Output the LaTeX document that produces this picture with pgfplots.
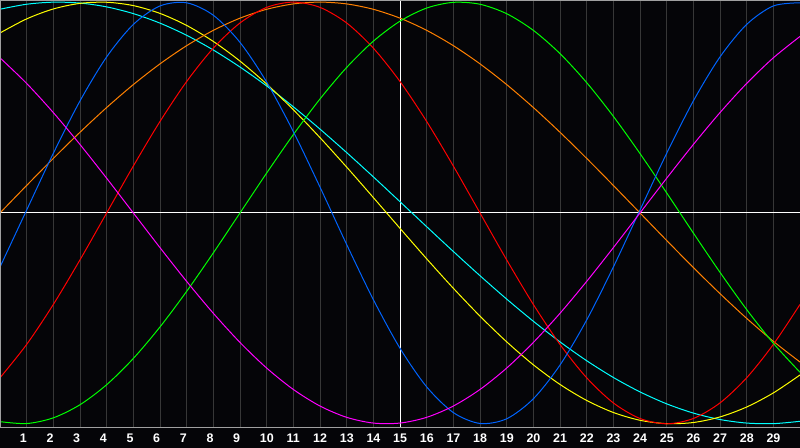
\documentclass[border=0pt]{standalone}
\usepackage{pgfplots}
\usepackage{pgfplotstable}
\pgfplotsset{compat=1.18}
\usepackage{fontspec}
\setmainfont{Liberation Sans}
\definecolor{bgcol}{RGB}{5,5,8}
\definecolor{gridcol}{RGB}{55,55,55}
\definecolor{framecol}{RGB}{160,160,160}
\definecolor{cblue}{RGB}{0,100,255}
\definecolor{cred}{RGB}{255,0,0}
\definecolor{cgreen}{RGB}{0,255,0}
\definecolor{cmag}{RGB}{255,0,255}
\definecolor{cyel}{RGB}{255,255,0}
\definecolor{corange}{RGB}{255,128,0}
\definecolor{ccyan}{RGB}{0,255,255}
\pgfplotstableread{
t blue red green magenta yellow orange cyan
0 -0.2566 -0.7818 -0.9898 0.7357 0.8536 0 0.9662
1 0.0137 -0.6235 -0.9989 0.6142 0.9204 0.1305 0.9899
2 0.2829 -0.4339 -0.9718 0.4759 0.9675 0.2588 0.9997
3 0.5312 -0.2225 -0.9096 0.3247 0.9940 0.3827 0.9955
4 0.7401 0 -0.8146 0.1646 0.9993 0.5 0.9773
5 0.8941 0.2225 -0.6901 0 0.9834 0.6088 0.9454
6 0.9818 0.4339 -0.5406 -0.1646 0.9464 0.7071 0.9002
7 0.9966 0.6235 -0.3717 -0.3247 0.8893 0.7934 0.8425
8 0.9376 0.7818 -0.1893 -0.4759 0.8134 0.8660 0.7727
9 0.8090 0.9010 0 -0.6142 0.7202 0.9239 0.6920
10 0.6204 0.9749 0.1893 -0.7357 0.6112 0.9659 0.6023
11 0.3859 1 0.3717 -0.8372 0.4894 0.9914 0.5035
12 0.1226 0.9749 0.5406 -0.9158 0.3572 1 0.3976
13 -0.1497 0.9010 0.6901 -0.9694 0.2175 0.9914 0.2863
14 -0.4109 0.7818 0.8146 -0.9966 0.0730 0.9659 0.1711
15 -0.6417 0.6235 0.9096 -0.9966 -0.0730 0.9239 0.0533
16 -0.8248 0.4339 0.9718 -0.9694 -0.2175 0.8660 -0.0652
17 -0.9468 0.2225 0.9989 -0.9158 -0.3572 0.7934 -0.1827
18 -0.9985 0 0.9898 -0.8372 -0.4894 0.7071 -0.2977
19 -0.9762 -0.2225 0.9450 -0.7357 -0.6112 0.6088 -0.4085
20 -0.8814 -0.4339 0.8660 -0.6142 -0.7202 0.5 -0.5136
21 -0.7214 -0.6235 0.7557 -0.4759 -0.8134 0.3827 -0.6115
22 -0.5078 -0.7818 0.6182 -0.3247 -0.8893 0.2588 -0.7008
23 -0.2566 -0.9010 0.4582 -0.1646 -0.9464 0.1305 -0.7803
24 0.0137 -0.9749 0.2817 0 -0.9834 0 -0.8487
25 0.2829 -1 0.0951 0.1646 -0.9993 -0.1305 -0.9054
26 0.5312 -0.9749 -0.0951 0.3247 -0.9940 -0.2588 -0.9492
27 0.7401 -0.9010 -0.2817 0.4759 -0.9675 -0.3827 -0.9798
28 0.8941 -0.7818 -0.4582 0.6142 -0.9204 -0.5 -0.9966
29 0.9818 -0.6235 -0.6182 0.7357 -0.8536 -0.6088 -0.9994
30 0.9966 -0.4339 -0.7557 0.8372 -0.7685 -0.7071 -0.9882
}\bio
\begin{document}
\begin{tikzpicture}
\fill[bgcol] (0,-20bp) rectangle (800bp,428bp);
\begin{axis}[
  at={(0,0)}, anchor=south west,
  scale only axis, width=800bp, height=428bp,
  xmin=0, xmax=30, ymin=-1.02, ymax=1.01,
  axis line style={draw=none},
  ytick=\empty,
  xtick={1,2,3,4,5,6,7,8,9,10,11,12,13,14,15,16,17,18,19,20,21,22,23,24,25,26,27,28,29},
  xticklabels={1,2,3,4,5,6,7,8,9,10,11,12,13,14,15,16,17,18,19,20,21,22,23,24,25,26,27,28,29},
  xmajorgrids,
  major grid style={draw=gridcol, line width=1bp},
  major tick length=0pt,
  xticklabel style={font=\fontsize{12.5}{12.5}\selectfont\bfseries, text=white,
    anchor=north west, inner sep=0pt, xshift=-7bp, yshift=-6bp},
  every axis plot/.append style={line width=1bp, smooth, no marks},
]
\draw[white, line width=1bp] (axis cs:0,0) -- (axis cs:30,0);
\draw[white, line width=1bp] (axis cs:15,-1.02) -- (axis cs:15,1.01);
\addplot[ccyan] table[x=t, y=cyan] {\bio};
\addplot[cyel] table[x=t, y=yellow] {\bio};
\addplot[corange] table[x=t, y=orange] {\bio};
\addplot[cred] table[x=t, y=red] {\bio};
\addplot[cgreen] table[x=t, y=green] {\bio};
\addplot[cblue] table[x=t, y=blue] {\bio};
\addplot[cmag] table[x=t, y=magenta] {\bio};
\end{axis}
\draw[framecol, line width=1bp] (0.5bp,0.3bp) -- (0.5bp,427.5bp);
\draw[framecol, line width=1bp] (0,427.5bp) -- (800bp,427.5bp);
\draw[framecol, line width=1bp] (0,0.3bp) -- (800bp,0.3bp);
\pgfresetboundingbox
\path[use as bounding box] (0,-20bp) rectangle (800bp,428bp);
\end{tikzpicture}
\end{document}
